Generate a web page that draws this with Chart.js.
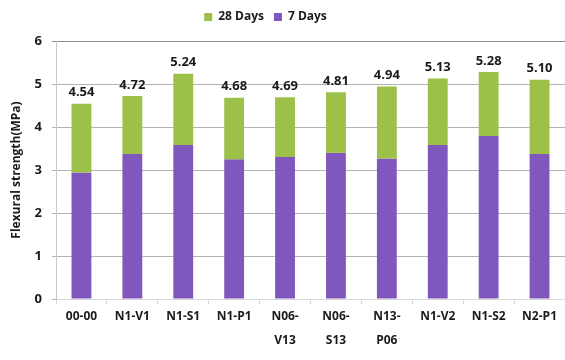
<!DOCTYPE html>
<html>
<head>
<meta charset="utf-8">
<script src="https://cdn.jsdelivr.net/npm/chart.js@4/dist/chart.umd.min.js"></script>
<style>
  html,body{margin:0;padding:0;background:#fff;}
  #wrap{width:565px;height:360px;position:relative;}
</style>
</head>
<body>
<div id="wrap"><canvas id="c"></canvas></div>
<script>
// mixes, 7-day and 28-day flexural strength (MPa)
const mixes=[['00-00'],['N1-V1'],['N1-S1'],['N1-P1'],['N06-','V13'],['N06-','S13'],['N13-','P06'],['N1-V2'],['N1-S2'],['N2-P1']];
const day7=[2.94,3.37,3.58,3.25,3.30,3.40,3.27,3.58,3.79,3.37];
const day28=[4.54,4.72,5.24,4.68,4.69,4.81,4.94,5.13,5.28,5.10];
const yTicks=[0,1,2,3,4,5,6];

const GREEN='#9cc048', PURPLE='#8058bd';
const FONT='"Open Sans", "DejaVu Sans", sans-serif';

// 28-day bar floats from the 7-day value up to its own value
const span28=day28.map((v,i)=>[day7[i],v]);

// value above each 28-day bar
const topLabels={
  id:'topLabels',
  afterDatasetsDraw(chart){
    const ctx=chart.ctx, meta=chart.getDatasetMeta(0);
    ctx.save();
    ctx.font='bold 13px '+FONT;
    ctx.fillStyle='#1a1a1a';
    ctx.textAlign='center'; ctx.textBaseline='middle';
    meta.data.forEach((bar,i)=>{
      ctx.fillText(day28[i].toFixed(2),bar.x,bar.y-11);
    });
    ctx.restore();
  }
};

// more room under the legend, and legend nudged a little left
const legendGap={
  id:'legendGap',
  beforeLayout(chart){
    const lg=chart.legend;
    if(!lg||lg._gapped) return;
    const fit=lg.fit.bind(lg);
    lg.fit=function(){ fit(); this.height+=8; };
    lg._gapped=true;
  },
  afterLayout(chart){
    if(chart.legend) chart.legend.right-=34;
  }
};

new Chart(document.getElementById('c'),{
  type:'bar',
  data:{
    labels:mixes,
    datasets:[
      {label:'28 Days',data:span28,backgroundColor:GREEN,borderWidth:0},
      {label:'7 Days',data:day7,backgroundColor:PURPLE,borderWidth:0},
    ]
  },
  options:{
    responsive:true,maintainAspectRatio:false,animation:false,
    layout:{padding:{top:1,right:0,bottom:0,left:0}},
    categoryPercentage:1,barPercentage:0.39,
    plugins:{
      legend:{
        position:'top',
        labels:{boxWidth:8,boxHeight:8,padding:10,color:'#1a1a1a',
          font:{family:FONT,size:12,weight:'bold'}}
      },
      tooltip:{enabled:false}
    },
    scales:{
      x:{
        stacked:true,
        grid:{offset:true,drawOnChartArea:false,tickLength:5,color:'#d9d9d9'},
        border:{color:'#d9d9d9'},
        ticks:{color:'#1a1a1a',maxRotation:0,autoSkip:false,padding:1,
          font:{family:FONT,size:12,weight:'bold',lineHeight:2}},
        afterFit(s){ s.height=61; }
      },
      y:{
        min:0,max:6,
        afterBuildTicks(s){ s.ticks=yTicks.map(v=>({value:v})); },
        grid:{color:c=>c.tick&&c.tick.value===6?'#8c8c8c':'#b3b3b3',tickLength:4},
        border:{display:true,color:'#c8c8c8'},
        ticks:{color:'#1a1a1a',padding:10,font:{family:FONT,size:13,weight:'bold'}},
        title:{display:true,text:'Flexural strength(MPa)',color:'#1a1a1a',padding:{top:9,bottom:0},
          font:{family:FONT,size:12,weight:'bold'}},
        afterFit(s){ s.width=56; }
      }
    }
  },
  plugins:[topLabels,legendGap]
});
</script>
</body>
</html>
